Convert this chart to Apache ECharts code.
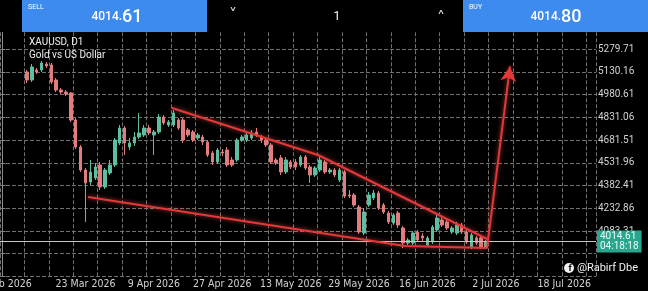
<!DOCTYPE html>
<html>
<head>
<meta charset="utf-8">
<script src="https://cdn.jsdelivr.net/npm/echarts@6/dist/echarts.min.js"></script>
<style>
  html, body { margin: 0; padding: 0; background: #000; }
  #main { width: 648px; height: 291px; }
</style>
</head>
<body>
<div id="main"></div>
<script>
// XAUUSD D1 - daily candles, [open, close, low, high]
var candles = [
  [5128.6, 5076.0, 5056.2, 5141.7], [5076.0, 5161.4, 5062.8, 5181.2], [5141.7, 5128.6, 5115.4, 5154.9],
  [5141.7, 5187.7, 5128.6, 5200.9], [5181.2, 5168.0, 5154.9, 5194.3], [5174.6, 5062.8, 5049.7, 5187.7],
  [5076.0, 5010.2, 4997.1, 5089.1], [5010.2, 4997.1, 4983.9, 5023.4], [4997.1, 4983.9, 4970.8, 5010.2],
  [4990.5, 4813.0, 4799.9, 4997.1], [4813.0, 4635.5, 4622.4, 4826.2], [4635.5, 4484.3, 4471.2, 4648.7],
  [4484.3, 4398.9, 4142.5, 4497.5], [4405.4, 4471.2, 4385.7, 4550.1], [4431.7, 4504.0, 4418.6, 4530.3],
  [4517.2, 4372.6, 4352.8, 4536.9], [4372.6, 4484.3, 4359.4, 4497.5], [4464.6, 4517.2, 4451.4, 4550.1],
  [4517.2, 4681.5, 4504.0, 4694.7], [4661.8, 4760.4, 4648.7, 4780.1], [4760.4, 4661.8, 4582.9, 4773.6],
  [4635.5, 4661.8, 4615.8, 4694.7], [4661.8, 4701.3, 4642.1, 4734.1], [4701.3, 4727.6, 4688.1, 4859.0],
  [4714.4, 4760.4, 4701.3, 4780.1], [4760.4, 4727.6, 4714.4, 4780.1], [4714.4, 4734.1, 4582.9, 4747.3],
  [4734.1, 4832.7, 4721.0, 4852.5], [4832.7, 4793.3, 4780.1, 4845.9], [4780.1, 4799.9, 4767.0, 4813.0],
  [4780.1, 4859.0, 4767.0, 4878.8], [4813.0, 4760.4, 4747.3, 4826.2], [4813.0, 4681.5, 4661.8, 4826.2],
  [4747.3, 4714.4, 4701.3, 4760.4], [4734.1, 4681.5, 4668.4, 4747.3], [4694.7, 4714.4, 4681.5, 4727.6],
  [4701.3, 4668.4, 4648.7, 4714.4], [4668.4, 4582.9, 4569.8, 4681.5], [4596.1, 4536.9, 4517.2, 4609.2],
  [4536.9, 4615.8, 4523.8, 4628.9], [4602.6, 4596.1, 4576.4, 4622.4], [4615.8, 4517.2, 4504.0, 4635.5],
  [4550.1, 4517.2, 4504.0, 4569.8], [4550.1, 4681.5, 4536.9, 4694.7], [4681.5, 4701.3, 4668.4, 4714.4],
  [4681.5, 4714.4, 4668.4, 4727.6], [4694.7, 4727.6, 4681.5, 4747.3], [4734.1, 4714.4, 4701.3, 4760.4],
  [4701.3, 4681.5, 4661.8, 4714.4], [4681.5, 4648.7, 4635.5, 4694.7], [4648.7, 4536.9, 4523.8, 4661.8],
  [4550.1, 4530.3, 4517.2, 4563.2], [4563.2, 4471.2, 4451.4, 4582.9], [4471.2, 4550.1, 4458.0, 4569.8],
  [4536.9, 4504.0, 4490.9, 4550.1], [4536.9, 4504.0, 4484.3, 4556.6], [4517.2, 4569.8, 4504.0, 4582.9],
  [4569.8, 4497.5, 4484.3, 4582.9], [4504.0, 4451.4, 4398.9, 4517.2], [4451.4, 4497.5, 4438.3, 4510.6],
  [4484.3, 4550.1, 4471.2, 4569.8], [4536.9, 4471.2, 4458.0, 4550.1], [4471.2, 4484.3, 4458.0, 4497.5],
  [4484.3, 4451.4, 4438.3, 4497.5], [4418.6, 4484.3, 4405.4, 4497.5], [4471.2, 4313.4, 4300.2, 4484.3],
  [4320.0, 4313.4, 4300.2, 4352.8], [4320.0, 4254.2, 4241.1, 4333.1], [4241.1, 4076.7, 4063.6, 4254.2],
  [4070.2, 4208.2, 4057.0, 4234.5], [4254.2, 4320.0, 4241.1, 4339.7], [4300.2, 4333.1, 4287.1, 4352.8],
  [4333.1, 4234.5, 4221.4, 4346.3], [4254.2, 4208.2, 4195.1, 4267.4], [4201.6, 4142.5, 4129.3, 4214.8],
  [4135.9, 4188.5, 4122.7, 4201.6], [4201.6, 4122.7, 4103.0, 4214.8], [4103.0, 4004.4, 3971.6, 4116.2],
  [4004.4, 4024.1, 3991.3, 4037.3], [4004.4, 4070.2, 3991.3, 4083.3], [4076.7, 4024.1, 4011.0, 4089.9],
  [4050.4, 4037.3, 4017.6, 4070.2], [3991.3, 4037.3, 3978.1, 4050.4], [4011.0, 4109.6, 3997.9, 4122.7],
  [4089.9, 4168.8, 4076.7, 4188.5], [4155.6, 4122.7, 4109.6, 4175.3], [4142.5, 4103.0, 4089.9, 4155.6],
  [4076.7, 4103.0, 4063.6, 4116.2], [4070.2, 4122.7, 4057.0, 4142.5], [4122.7, 4076.7, 4063.6, 4135.9],
  [4076.7, 4011.0, 3997.9, 4089.9], [3978.1, 4057.0, 3965.0, 4070.2], [4037.3, 4004.4, 3991.3, 4050.4],
  [4037.3, 3978.1, 3965.0, 4050.4], [3971.6, 4014.61, 3965.0, 4024.1]
];
var firstBar = 5;      // slot of the first visible candle
var slotCount = 122;   // candles + empty future space

var dateLabels = ['27 Feb 2026', '23 Mar 2026', '9 Apr 2026', '27 Apr 2026', '13 May 2026',
                  '29 May 2026', '16 Jun 2026', '2 Jul 2026', '18 Jul 2026'];
var labelSlots = [0, 17, 31, 45, 59, 73, 87, 101, 115];

var priceMin = 3784.21, priceMax = 5429.26, priceStep = 149.55;
var lastPrice = 4014.61, lastTime = '04:18:18';
var sellPrice = '4014.61', buyPrice = '4014.80', lotSize = '1';

// drawn wedge + arrow, [slot, price]
var upperLine = [[34.7, 4891.9], [64.6, 4582.9], [99.2, 4030.7]];
var lowerLine = [[17.5, 4306.8], [82.4, 3984.7], [99.2, 3971.6]];
var arrowLine = [[99.2, 3971.6], [103.9, 5165.0]];

var RED = '#e27d7f', GREEN = '#5cbf9f', LINE_RED = '#e23838', BLUE = '#3d8bef';
var GRID = '#707070';
var FONT = 'Roboto';
var NARROW = "'Liberation Sans Narrow', 'DejaVu Sans Condensed', Roboto";

var categories = [];
var candleData = [];
for (var i = 0; i < slotCount; i++) {
  var li = labelSlots.indexOf(i);
  categories.push(li >= 0 ? dateLabels[li] : '');
  var c = candles[i - firstBar];
  candleData.push(c ? c : '-');
}

var trendStyle = {
  color: LINE_RED, width: 2,
  shadowBlur: 4, shadowColor: 'rgba(255,90,90,0.7)'
};
var gridLine = { show: true, lineStyle: { color: GRID, type: 'dashed', width: 1, opacity: 1 } };

var chart = echarts.init(document.getElementById('main'), null, { renderer: 'canvas' });

chart.setOption({
  backgroundColor: '#000',
  animation: false,
  grid: {
    left: 0, right: 52, top: 26.25, bottom: 14.5,
    containLabel: false, outerBoundsMode: 'none'
  },
  xAxis: [
    {
      type: 'category',
      data: categories,
      boundaryGap: true,
      axisLine: { show: false },
      axisTick: { show: false },
      splitLine: { show: false },
      axisLabel: {
        interval: 0, margin: 2, hideOverlap: false,
        color: '#d2d2d2', fontSize: 10.5, fontFamily: NARROW
      }
    },
    {
      type: 'value',
      position: 'top',
      min: -0.5, max: slotCount - 0.5, interval: 5,
      axisLine: { show: false },
      axisTick: { show: false },
      axisLabel: { show: false },
      splitLine: gridLine
    }
  ],
  yAxis: {
    type: 'value',
    position: 'right',
    min: priceMin, max: priceMax, interval: priceStep,
    axisLine: { show: true, lineStyle: { color: '#8a8a8a', width: 1 } },
    axisTick: { show: true, length: 3, lineStyle: { color: '#8a8a8a' } },
    axisLabel: {
      margin: 2, color: '#d2d2d2', fontSize: 10, fontFamily: FONT,
      showMaxLabel: false,
      formatter: function (v) { return v < 4000 ? '' : v.toFixed(2); }
    },
    splitLine: gridLine
  },
  series: [
    {
      type: 'candlestick',
      xAxisIndex: 0,
      data: candleData,
      barWidth: 3,
      itemStyle: {
        color: GREEN, color0: RED,
        borderColor: GREEN, borderColor0: RED, borderWidth: 1
      },
      markLine: {
        silent: true,
        symbol: 'none',
        lineStyle: { color: '#c8c8c8', type: 'solid', width: 1 },
        label: {
          position: 'end', distance: 1,
          formatter: lastPrice.toFixed(2) + '\n' + lastTime,
          backgroundColor: '#2aa58d', color: '#e6fff7',
          fontSize: 10, fontFamily: FONT, lineHeight: 10, padding: [1, 3, 1, 3]
        },
        data: [{ yAxis: lastPrice }]
      }
    },
    {
      type: 'line', xAxisIndex: 1, data: upperLine,
      symbol: 'none', lineStyle: trendStyle, z: 5
    },
    {
      type: 'line', xAxisIndex: 1, data: lowerLine,
      symbol: 'none', lineStyle: trendStyle, z: 5
    },
    {
      type: 'line', xAxisIndex: 1, data: [],
      markLine: {
        silent: true,
        symbol: ['none', 'arrow'],
        symbolSize: [12, 15],
        label: { show: false },
        lineStyle: { color: LINE_RED, width: 2, type: 'solid', shadowBlur: 4, shadowColor: 'rgba(255,90,90,0.7)' },
        data: [[{ coord: arrowLine[0] }, { coord: arrowLine[1] }]]
      }
    }
  ],
  graphic: [
    // top trade bar
    { type: 'rect', z: 100, shape: { x: 0, y: 0, width: 648, height: 32 }, style: { fill: '#000' } },
    { type: 'rect', z: 101, shape: { x: 22, y: 0, width: 185, height: 32 }, style: { fill: BLUE } },
    { type: 'rect', z: 101, shape: { x: 463, y: 0, width: 185, height: 32 }, style: { fill: BLUE } },
    { type: 'text', z: 102, x: 28, y: 4, style: { text: 'SELL', fill: '#fff', fontSize: 7, fontFamily: FONT } },
    { type: 'text', z: 102, x: 469, y: 4, style: { text: 'BUY', fill: '#fff', fontSize: 7, fontFamily: FONT } },
    {
      type: 'text', z: 102, x: 117, y: 17,
      style: {
        text: '{s|' + sellPrice.slice(0, 5) + '}{b|' + sellPrice.slice(5) + '}',
        align: 'center', verticalAlign: 'middle', fill: '#fff',
        rich: {
          s: { fontSize: 12, fontFamily: FONT, fill: '#fff', fontWeight: 500 },
          b: { fontSize: 18, fontFamily: FONT, fill: '#fff', fontWeight: 500 }
        }
      }
    },
    {
      type: 'text', z: 102, x: 556, y: 17,
      style: {
        text: '{s|' + buyPrice.slice(0, 5) + '}{b|' + buyPrice.slice(5) + '}',
        align: 'center', verticalAlign: 'middle', fill: '#fff',
        rich: {
          s: { fontSize: 12, fontFamily: FONT, fill: '#fff', fontWeight: 500 },
          b: { fontSize: 18, fontFamily: FONT, fill: '#fff', fontWeight: 500 }
        }
      }
    },
    { type: 'text', z: 102, x: 233, y: 16, style: { text: '\u02C5', fill: '#ddd', fontSize: 16, fontFamily: 'DejaVu Sans', align: 'center', verticalAlign: 'middle' } },
    { type: 'text', z: 102, x: 337, y: 17, style: { text: lotSize, fill: '#eee', fontSize: 13, fontFamily: FONT, align: 'center', verticalAlign: 'middle' } },
    { type: 'text', z: 102, x: 441, y: 19, style: { text: '\u02C4', fill: '#ddd', fontSize: 16, fontFamily: 'DejaVu Sans', align: 'center', verticalAlign: 'middle' } },
    // symbol caption
    { type: 'text', z: 50, x: 29, y: 37, style: { text: 'XAUUSD, D1', fill: '#f0f0f0', fontSize: 10, fontFamily: FONT } },
    { type: 'text', z: 50, x: 29, y: 50, style: { text: 'Gold vs US Dollar', fill: '#f0f0f0', fontSize: 10, fontFamily: FONT } },
    // watermark
    { type: 'circle', z: 50, shape: { cx: 569, cy: 268, r: 5 }, style: { fill: '#f2f2f2' } },
    { type: 'text', z: 51, x: 570, y: 269, style: { text: 'f', fill: '#000', fontSize: 9, fontWeight: 'bold', fontFamily: FONT, align: 'center', verticalAlign: 'middle' } },
    { type: 'text', z: 50, x: 577, y: 268, style: { text: '@Rabirf Dbe', fill: '#f2f2f2', fontSize: 11, fontFamily: FONT, verticalAlign: 'middle' } }
  ]
});
</script>
</body>
</html>
